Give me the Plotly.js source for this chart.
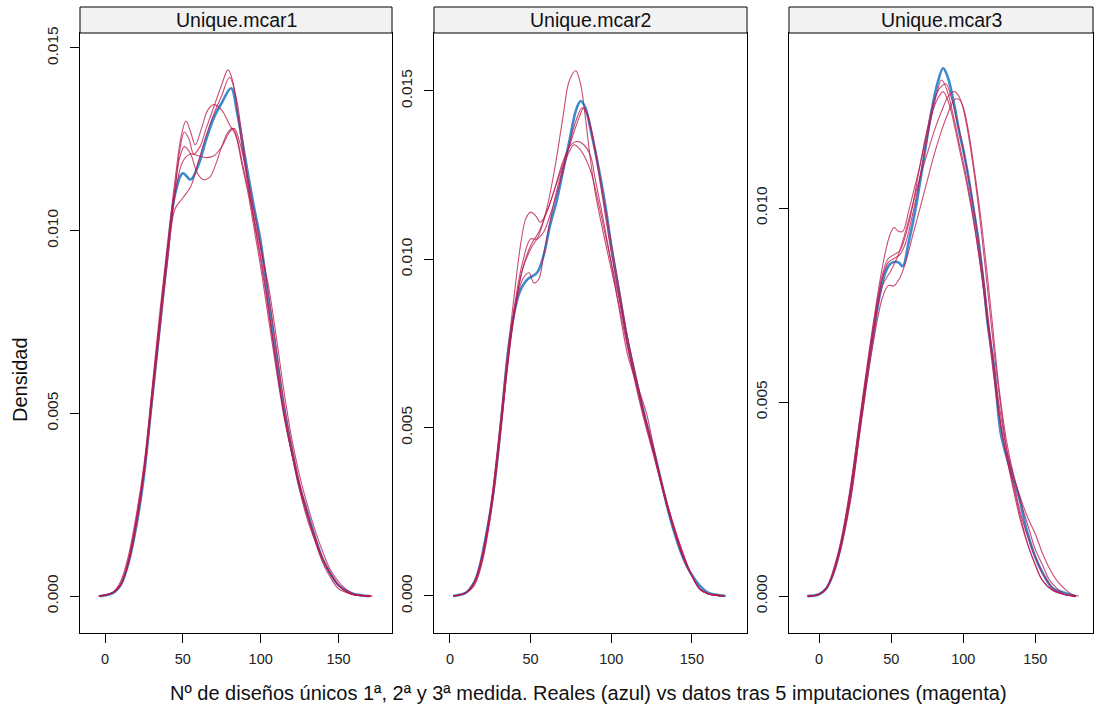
<!DOCTYPE html>
<html><head><meta charset="utf-8">
<script src="https://cdn.plot.ly/plotly-3.0.1.min.js"></script>
<style>body{margin:0;padding:0;background:#fff}#chart{width:1094px;height:713px}</style>
</head><body><div id="chart"></div>
<script>
// ---------- data ----------
const panels = ["Unique.mcar1", "Unique.mcar2", "Unique.mcar3"];
const xTicks = [0, 50, 100, 150];
const yTicks1 = [0, 0.005, 0.010, 0.015];
const yTicks2 = [0, 0.005, 0.010, 0.015];
const yTicks3 = [0, 0.005, 0.010];
const xTitle = "Nº de diseños únicos 1ª, 2ª y 3ª medida. Reales (azul) vs datos tras 5 imputaciones (magenta)";
const yTitle = "Densidad";

// Panel 1 – observed (blue)
const obs1_x = [-3,5,10,15,20,25,30,35,40,45,50,55,60,65,70,75,81,85,90,95,100,105,110,115,120,125,130,135,140,145,150,155,160,170];
const obs1_y = [0,0.00008,0.0003,0.0009,0.0019,0.0033,0.0053,0.0073,0.0093,0.0110,0.01157,0.0114,0.0118,0.0125,0.0131,0.0135,0.0139,0.0132,0.0120,0.0108,0.0097,0.0081,0.0066,0.0051,0.0040,0.0030,0.0023,0.0016,0.0010,0.0006,0.0003,0.00015,0.00006,0];
// Panel 1 – imputations (magenta)
const imp1a_x = [-4,5,10,15,20,25,30,35,40,45,49,52,55,58,62,66,70,75,80,84,88,92,96,100,105,110,115,120,125,130,135,140,145,150,155,160,171];
const imp1a_y = [0,0.0001,0.0004,0.0011,0.0022,0.0036,0.0056,0.0077,0.0096,0.0114,0.0126,0.0130,0.0127,0.01235,0.0128,0.0133,0.01345,0.0133,0.0129,0.0126,0.0118,0.0110,0.0100,0.0090,0.0076,0.0062,0.0049,0.0039,0.0030,0.0022,0.0015,0.0009,0.0005,0.0002,0.0001,0.00003,0];
const imp1b_x = [-4,5,10,15,20,25,30,35,40,45,48,51,54,57,61,65,70,75,79,82,85,88,92,96,100,105,110,115,120,125,130,135,140,145,150,155,160,171];
const imp1b_y = [0,0.0001,0.0003,0.0009,0.0020,0.0034,0.0054,0.0074,0.0094,0.0111,0.0122,0.0127,0.0125,0.0121,0.0123,0.0128,0.0134,0.0140,0.0144,0.0141,0.0133,0.0123,0.0112,0.0102,0.0093,0.0079,0.0063,0.0050,0.0039,0.0030,0.0022,0.0016,0.0010,0.0006,0.0003,0.00012,0.00004,0];
const imp1c_x = [-4,5,10,15,20,25,30,35,40,45,50,55,60,65,70,75,80,83,86,90,95,100,105,110,115,120,125,130,135,140,145,150,155,160,170];
const imp1c_y = [0,0.0001,0.0003,0.0010,0.0021,0.0035,0.0055,0.0075,0.0094,0.0110,0.0119,0.0121,0.01205,0.0120,0.01205,0.0123,0.0127,0.0128,0.0125,0.0118,0.0107,0.0096,0.0083,0.0068,0.0053,0.0041,0.0031,0.0023,0.0016,0.0010,0.0006,0.0003,0.00012,0.00004,0];
const imp1d_x = [-4,5,10,15,20,25,30,35,40,45,48,51,55,59,63,67,71,75,79,82,85,88,92,96,100,105,110,115,120,125,130,135,140,145,150,155,160,172];
const imp1d_y = [0,0.0001,0.0003,0.0009,0.0020,0.0034,0.0054,0.0074,0.0094,0.0112,0.0120,0.0123,0.0121,0.0116,0.0114,0.01145,0.0118,0.0123,0.0127,0.0128,0.0125,0.0119,0.0111,0.0103,0.0095,0.0085,0.0071,0.0056,0.0043,0.0033,0.0025,0.0018,0.0012,0.0007,0.0004,0.00018,0.00006,0];
const imp1e_x = [-4,5,10,15,20,25,30,35,40,45,50,55,60,65,70,75,80,84,88,92,96,100,105,110,115,120,125,130,135,140,145,150,155,160,170];
const imp1e_y = [0,0.0001,0.0003,0.0009,0.0019,0.0033,0.0052,0.0072,0.0091,0.0106,0.0109,0.0112,0.0119,0.0126,0.0132,0.0137,0.0142,0.0137,0.0126,0.0113,0.0102,0.0092,0.0078,0.0064,0.0050,0.0039,0.0029,0.0021,0.0015,0.0010,0.0006,0.0003,0.00012,0.00004,0];

// Panel 2 – observed (blue)
const obs2_x = [2,10,15,18,22,27,32,37,43,48,54,58,62,66,70,74,78,81,84,87,91,96,100,105,110,116,122,127,131,135,139,144,149,155,160,171];
const obs2_y = [0,0.0001,0.0004,0.0008,0.0017,0.0031,0.0053,0.0076,0.0090,0.0094,0.0096,0.0101,0.0110,0.0117,0.0126,0.0135,0.0144,0.0147,0.0145,0.0139,0.0130,0.0117,0.0104,0.0090,0.0076,0.0063,0.0051,0.0042,0.0034,0.0026,0.0019,0.0012,0.0007,0.0003,0.0001,0];
// Panel 2 – imputations (magenta)
const imp2a_x = [2,10,15,20,25,30,35,40,45,50,55,60,65,70,74,78,81,84,87,90,95,100,105,110,115,120,125,130,135,140,145,150,155,160,170];
const imp2a_y = [0,0.0001,0.0004,0.0012,0.0025,0.0045,0.0067,0.0085,0.0097,0.0103,0.0107,0.0115,0.0127,0.0142,0.0153,0.0156,0.0152,0.0142,0.0130,0.0120,0.0108,0.0097,0.0086,0.0074,0.0064,0.0054,0.0045,0.0035,0.0026,0.0018,0.0011,0.0006,0.0002,0.00007,0];
const imp2b_x = [2,10,15,20,25,30,35,40,44,47,50,53,56,60,65,70,75,80,83,86,90,95,100,105,110,115,120,125,130,135,140,145,150,155,160,170];
const imp2b_y = [0,0.0001,0.0004,0.0012,0.0026,0.0046,0.0069,0.0090,0.0105,0.0112,0.0114,0.0113,0.0111,0.0114,0.0121,0.0128,0.0135,0.0142,0.0145,0.0142,0.0133,0.0119,0.0105,0.0091,0.0077,0.0065,0.0055,0.0046,0.0036,0.0027,0.0019,0.0012,0.0006,0.0002,0.00006,0];
const imp2c_x = [2,10,15,20,25,30,35,40,45,50,55,60,65,70,75,79,83,87,90,95,100,105,110,115,118,122,126,130,135,140,145,150,155,160,170];
const imp2c_y = [0,0.0001,0.0004,0.0011,0.0024,0.0043,0.0065,0.0084,0.0097,0.0104,0.0108,0.0114,0.0121,0.0129,0.0134,0.0135,0.0134,0.0131,0.0124,0.0112,0.0099,0.0085,0.0072,0.0064,0.0060,0.0054,0.0045,0.0036,0.0026,0.0018,0.0011,0.0006,0.0002,0.00007,0];
const imp2d_x = [2,10,15,20,25,30,35,40,45,49,52,55,58,62,66,70,74,77,80,84,88,92,96,100,105,110,115,120,125,130,135,140,145,150,155,160,170];
const imp2d_y = [0,0.0001,0.0003,0.0010,0.0023,0.0042,0.0065,0.0084,0.0094,0.0096,0.0093,0.0094,0.0101,0.0111,0.0120,0.0127,0.0132,0.0134,0.0133,0.0130,0.0125,0.0117,0.0108,0.0099,0.0088,0.0077,0.0066,0.0055,0.0045,0.0036,0.0027,0.0019,0.0012,0.0006,0.0002,0.00007,0];
const imp2e_x = [2,10,15,20,25,30,35,40,45,50,54,58,62,66,70,74,78,82,85,88,92,96,100,105,110,115,120,125,130,135,140,145,150,155,160,170];
const imp2e_y = [0,0.0001,0.0004,0.0011,0.0025,0.0044,0.0066,0.0086,0.0099,0.0106,0.0106,0.0108,0.0113,0.0119,0.0126,0.0134,0.0141,0.0145,0.0143,0.0137,0.0126,0.0114,0.0102,0.0089,0.0075,0.0063,0.0053,0.0044,0.0035,0.0026,0.0018,0.0011,0.0006,0.0002,0.00006,0];

// Panel 3 – observed (blue)
const obs3_x = [-8,0,5,10,15,22,29,37,44,48,51,55,58,62,67,71,74,78,82,86,89,93,97,100,104,107,110,114,117,121,126,130,134,139,144,150,155,162,169,178];
const obs3_y = [0,0.00005,0.0002,0.0006,0.0013,0.0027,0.0046,0.0066,0.0081,0.0085,0.0086,0.0086,0.0085,0.0091,0.0100,0.0109,0.0116,0.0125,0.0132,0.0136,0.0134,0.0128,0.0120,0.0115,0.0107,0.0100,0.0093,0.0081,0.0070,0.0060,0.0042,0.0036,0.0031,0.0025,0.0017,0.0010,0.0006,0.0002,0.0001,0];
// Panel 3 – imputations (magenta)
const imp3a_x = [-8,0,5,10,15,22,29,37,44,48,52,56,60,64,68,72,76,80,85,89,93,97,101,105,110,115,120,125,130,135,140,145,150,155,162,170,178];
const imp3a_y = [0,0.00005,0.0002,0.0006,0.0013,0.0027,0.0046,0.0067,0.0082,0.0086,0.0087,0.0088,0.0091,0.0097,0.0104,0.0112,0.0120,0.0127,0.0133,0.0130,0.0124,0.0117,0.0110,0.0102,0.0090,0.0076,0.0060,0.0046,0.0036,0.0028,0.0020,0.0013,0.0008,0.0004,0.00015,0.00004,0];
const imp3b_x = [-8,0,5,10,15,22,29,37,44,49,52,55,58,62,66,70,74,78,82,86,90,94,98,102,106,110,115,120,125,130,135,140,145,150,155,162,170,178];
const imp3b_y = [0,0.00005,0.0002,0.0007,0.0014,0.0029,0.0048,0.0069,0.0085,0.0093,0.0095,0.0094,0.0094,0.0099,0.0105,0.0111,0.0118,0.0124,0.0128,0.0130,0.0127,0.0121,0.0114,0.0107,0.0099,0.0090,0.0077,0.0062,0.0047,0.0036,0.0027,0.0019,0.0013,0.0008,0.0004,0.00015,0.00004,0];
const imp3c_x = [-8,0,5,10,15,22,29,37,44,50,55,60,65,70,75,80,85,90,94,98,102,106,110,114,118,122,126,130,135,140,145,150,155,160,165,172,178];
const imp3c_y = [0,0.00005,0.0002,0.0006,0.0013,0.0026,0.0045,0.0066,0.0080,0.0084,0.0088,0.0094,0.0101,0.0108,0.0114,0.0120,0.0125,0.0129,0.0130,0.0128,0.0122,0.0113,0.0102,0.0089,0.0075,0.0061,0.0049,0.0038,0.0029,0.0021,0.0015,0.0010,0.0006,0.0003,0.00012,0.00003,0];
const imp3d_x = [-8,0,5,10,15,22,29,37,44,48,52,56,60,65,70,75,80,85,90,94,97,100,104,108,112,116,120,125,130,135,140,145,150,155,160,165,170,178];
const imp3d_y = [0,0.00005,0.0002,0.0006,0.0012,0.0025,0.0044,0.0064,0.0077,0.0080,0.0080,0.0082,0.0086,0.0093,0.0100,0.0107,0.0114,0.0120,0.0125,0.0128,0.0128,0.0126,0.0119,0.0109,0.0098,0.0085,0.0071,0.0053,0.0040,0.0031,0.0024,0.0018,0.0012,0.0008,0.0004,0.0002,0.00005,0];
const imp3e_x = [-8,0,5,10,15,22,29,37,44,48,52,56,60,64,68,72,76,80,84,88,92,96,100,105,110,115,120,125,130,135,140,145,150,155,160,165,170,175,180];
const imp3e_y = [0,0.00005,0.0002,0.0006,0.0013,0.0028,0.0047,0.0068,0.0083,0.0087,0.0088,0.0089,0.0093,0.0099,0.0107,0.0115,0.0122,0.0128,0.0131,0.0132,0.0128,0.0122,0.0115,0.0105,0.0093,0.0079,0.0063,0.0049,0.0038,0.0031,0.0025,0.0020,0.0016,0.0011,0.0007,0.0004,0.0002,0.00005,0];

// ---------- build ----------
const BLUE = "rgba(40,125,200,0.9)";
const MAG = "rgba(185,25,80,0.78)";
const FONT = "Liberation Sans, Arial, sans-serif";

const groups = [
  {obs: [obs1_x, obs1_y], imp: [[imp1a_x,imp1a_y],[imp1b_x,imp1b_y],[imp1c_x,imp1c_y],[imp1d_x,imp1d_y],[imp1e_x,imp1e_y]]},
  {obs: [obs2_x, obs2_y], imp: [[imp2a_x,imp2a_y],[imp2b_x,imp2b_y],[imp2c_x,imp2c_y],[imp2d_x,imp2d_y],[imp2e_x,imp2e_y]]},
  {obs: [obs3_x, obs3_y], imp: [[imp3a_x,imp3a_y],[imp3b_x,imp3b_y],[imp3c_x,imp3c_y],[imp3d_x,imp3d_y],[imp3e_x,imp3e_y]]}
];

const traces = [];
groups.forEach((g, i) => {
  const xa = i === 0 ? "x" : "x" + (i + 1);
  const ya = i === 0 ? "y" : "y" + (i + 1);
  traces.push({x: g.obs[0], y: g.obs[1], xaxis: xa, yaxis: ya, mode: "lines",
    line: {color: BLUE, width: 2.6, shape: "spline", smoothing: 1}, hoverinfo: "skip", showlegend: false});
  g.imp.forEach(s => traces.push({x: s[0], y: s[1], xaxis: xa, yaxis: ya, mode: "lines",
    line: {color: MAG, width: 1.1, shape: "spline", smoothing: 1}, hoverinfo: "skip", showlegend: false}));
});

const W = 1094, H = 713;
const xDom = [[80/W, 392/W], [434/W, 747/W], [789/W, 1093/W]];
const yDom = [(H-633)/H, (H-33)/H];
const stripTop = (H-7)/H;
const xRanges = [[-16.1, 184.4], [-9.9, 184.2], [-20.9, 190]];
const yRanges = [[-0.00101, 0.01541], [-0.0011, 0.01672], [-0.00095, 0.01451]];
const yTickSets = [yTicks1, yTicks2, yTicks3];

const layout = {
  width: W, height: H,
  margin: {l: 0, r: 0, t: 0, b: 0},
  paper_bgcolor: "#fff", plot_bgcolor: "#fff",
  showlegend: false,
  shapes: [], annotations: []
};
for (let i = 0; i < 3; i++) {
  const sx = i === 0 ? "" : String(i + 1);
  layout["xaxis" + sx] = {
    domain: xDom[i], range: xRanges[i], anchor: "y" + sx,
    tickvals: xTicks, ticktext: xTicks.map(String),
    ticks: "outside", ticklen: 9, tickwidth: 1, tickcolor: "#000", ticklabelstandoff: 4,
    showline: true, mirror: true, linecolor: "#000", linewidth: 1,
    showgrid: false, zeroline: false, tickfont: {family: FONT, size: 14.5, color: "#222"}, fixedrange: true
  };
  layout["yaxis" + sx] = {
    domain: yDom, range: yRanges[i], anchor: "x" + sx,
    tickvals: yTickSets[i], ticktext: yTickSets[i].map(v => v.toFixed(3)),
    tickangle: -90,
    ticks: "outside", ticklen: 9, tickwidth: 1, tickcolor: "#000", ticklabelstandoff: 6,
    showline: true, mirror: true, linecolor: "#000", linewidth: 1,
    showgrid: false, zeroline: false, tickfont: {family: FONT, size: 15.5, color: "#222"}, fixedrange: true
  };
  layout.shapes.push({type: "rect", xref: "paper", yref: "paper",
    x0: xDom[i][0], x1: xDom[i][1], y0: yDom[1], y1: stripTop,
    fillcolor: "#f2f2f2", line: {color: "#000", width: 1}, layer: "above"});
  layout.annotations.push({xref: "paper", yref: "paper",
    x: (xDom[i][0] + xDom[i][1]) / 2, y: (yDom[1] + stripTop) / 2,
    xanchor: "center", yanchor: "middle", showarrow: false,
    text: panels[i], font: {family: FONT, size: 19.5, color: "#111"}});
}
layout.annotations.push({xref: "paper", yref: "paper", x: 588/W, y: (H-693)/H,
  xanchor: "center", yanchor: "middle", showarrow: false,
  text: xTitle, font: {family: FONT, size: 20, color: "#111"}});
layout.annotations.push({xref: "paper", yref: "paper", x: 20/W, y: (H-380)/H,
  xanchor: "center", yanchor: "middle", showarrow: false, textangle: -90,
  text: yTitle, font: {family: FONT, size: 20, color: "#111"}});

Plotly.newPlot("chart", traces, layout, {displayModeBar: false, staticPlot: true});
</script>
</body></html>
